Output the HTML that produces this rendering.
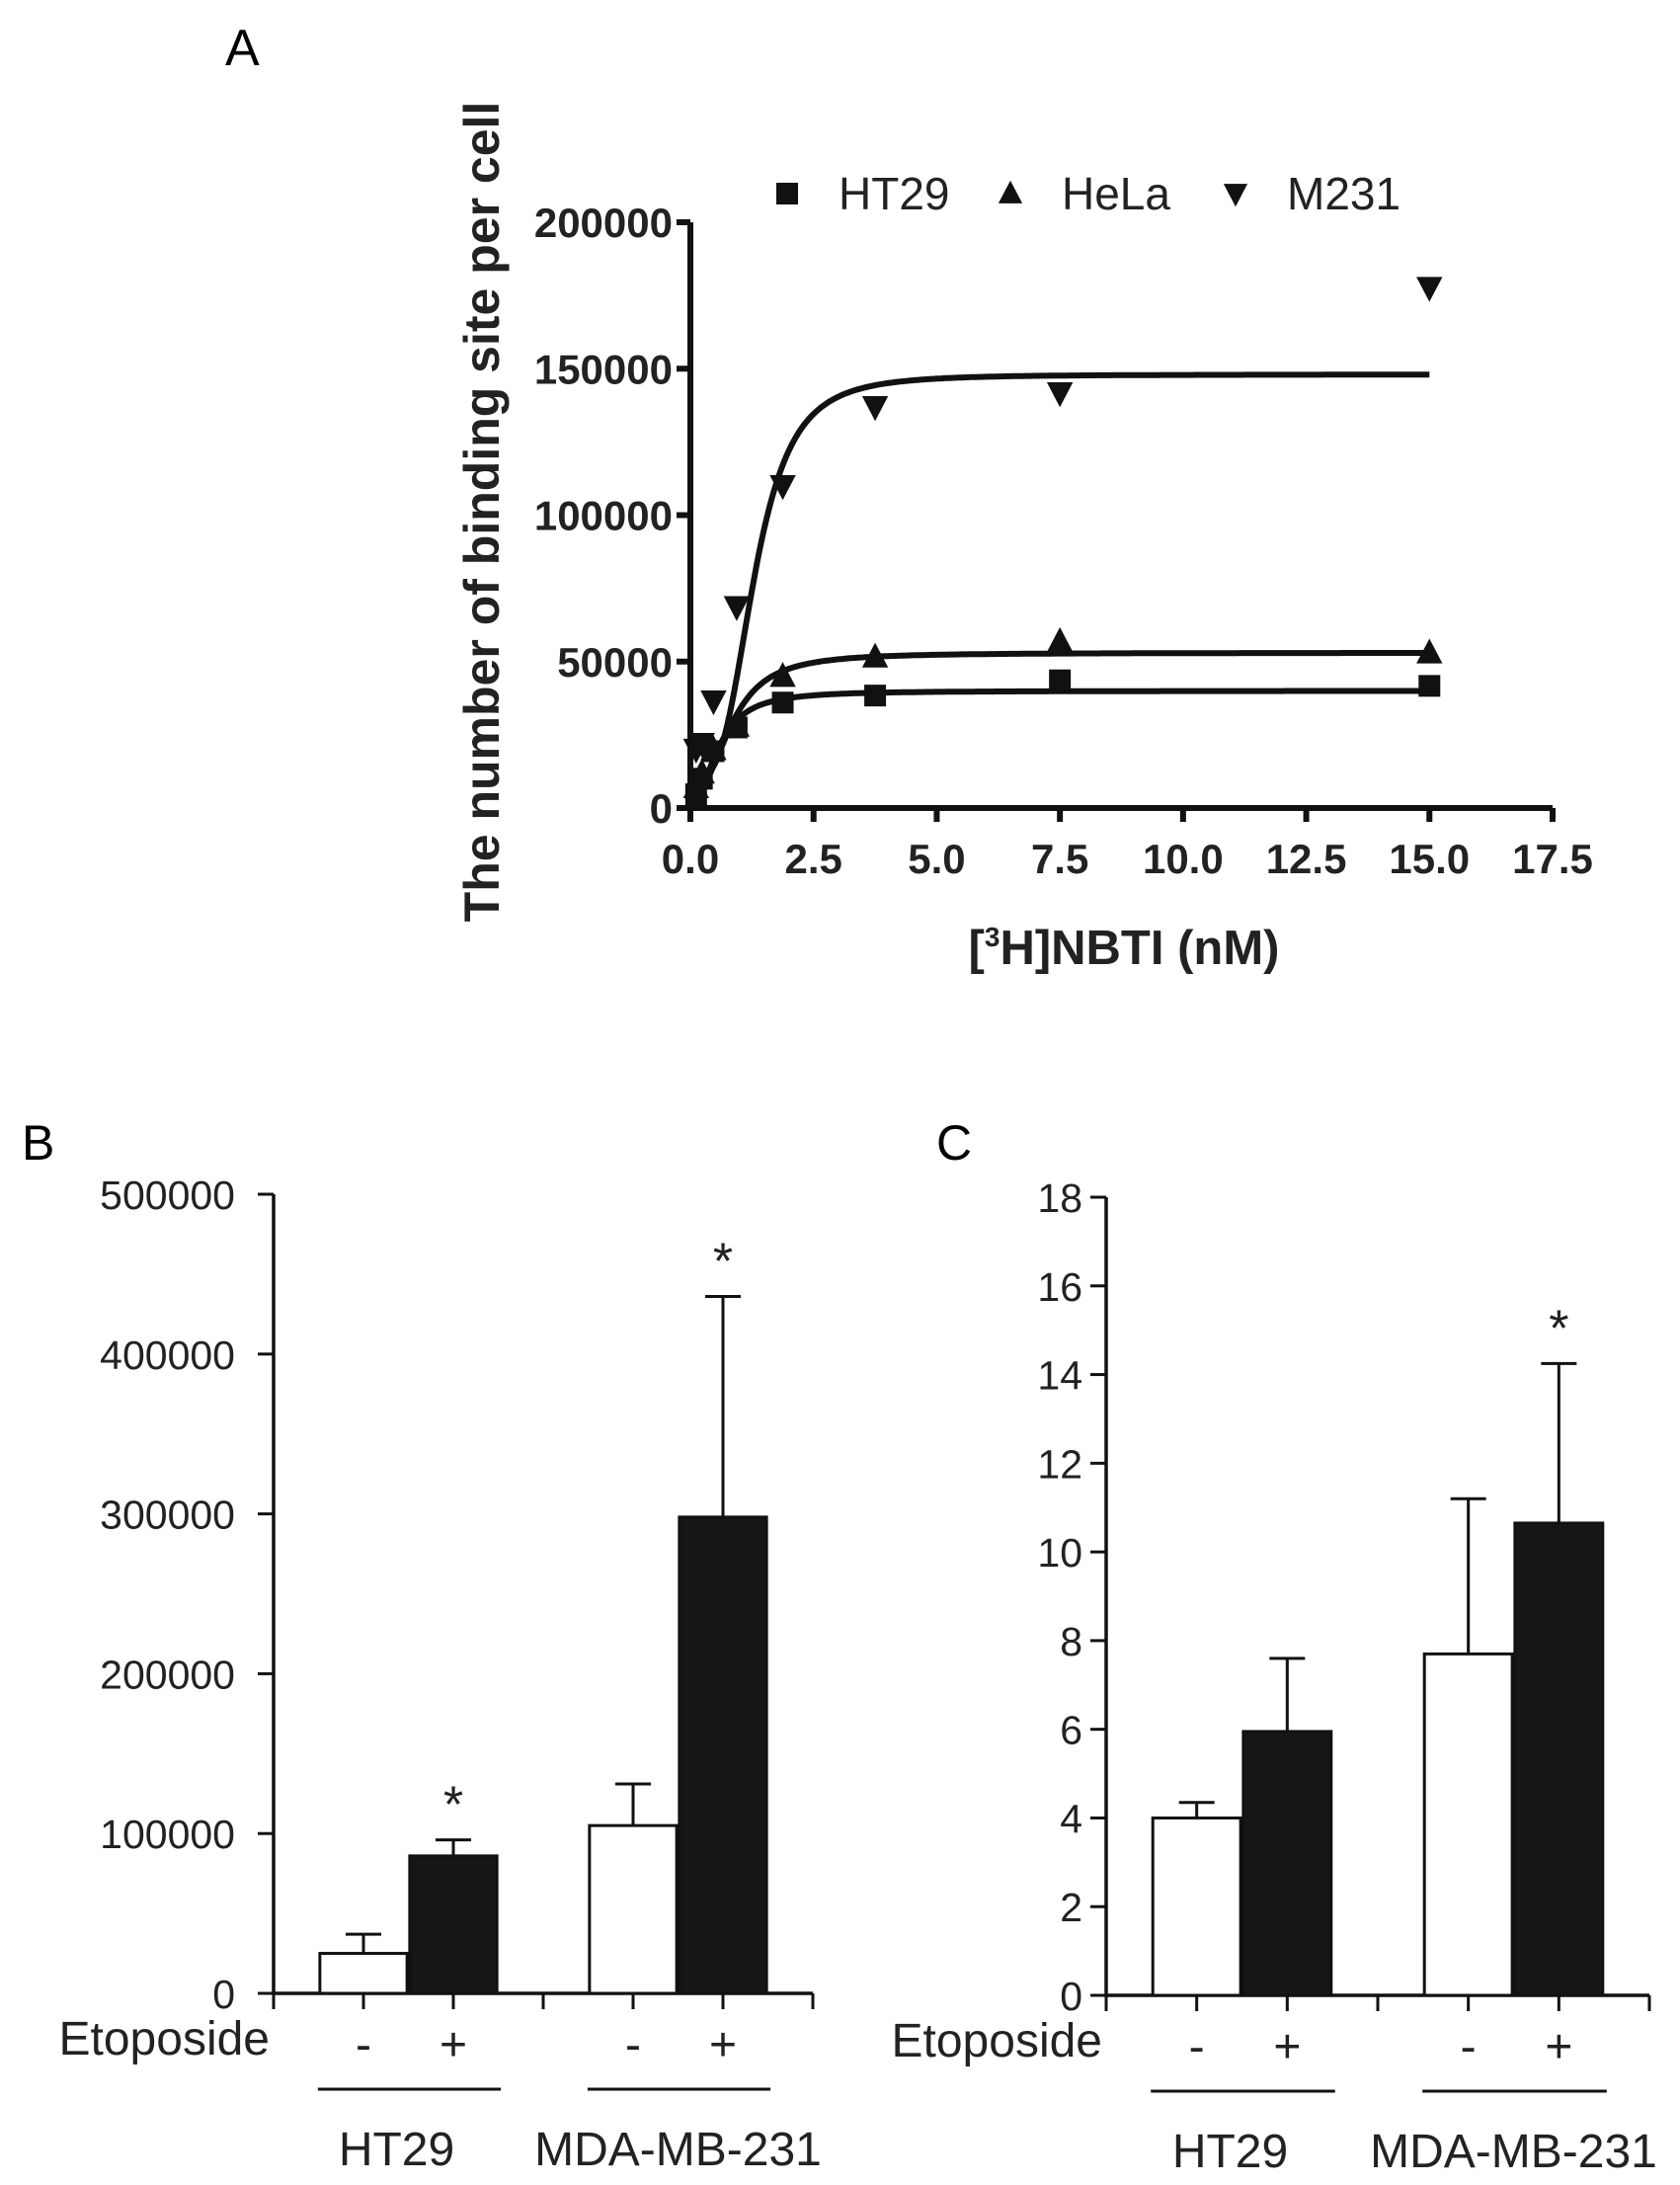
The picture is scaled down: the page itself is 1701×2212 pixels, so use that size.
<!DOCTYPE html>
<html><head><meta charset="utf-8">
<style>
html,body{margin:0;padding:0;background:#fff;}
svg{display:block;font-family:"Liberation Sans",Arial,sans-serif;}
</style></head>
<body>
<svg id="fig" width="1701" height="2212" viewBox="0 0 1701 2212" xmlns="http://www.w3.org/2000/svg">
<g id="panelA"></g>
<g id="panelB"></g>
<g id="panelC"></g>
</svg>
<script>
// ---------- Panel A data ----------
const concA = [0.117, 0.234, 0.47, 0.94, 1.875, 3.75, 7.5, 15];
const ht29A = [4700, 10000, 19400, 27500, 36000, 38400, 43600, 41700];
const helaA = [7000, 12000, 20000, 28000, 45000, 51600, 56900, 53000];
const m231A = [20000, 22000, 36500, 68700, 110000, 137000, 141700, 177700];
const xTicksA = ["0.0","2.5","5.0","7.5","10.0","12.5","15.0","17.5"];
const yTicksA = [0, 50000, 100000, 150000, 200000];
// fit parameters [bottom, top, K, hill]
const fitHT29 = [3000, 40000, 0.6, 2.2];
const fitHeLa = [5000, 53000, 0.85, 2.4];
const fitM231 = [10000, 148000, 1.3, 3.4];

// ---------- Panel B data ----------
const groupsB = ["HT29","MDA-MB-231"];
const meanB = [25000, 86000, 105000, 298000];
const errB = [37000, 96000, 131000, 436000];
const sigB = [false, true, false, true];
const yTicksB = [0,100000,200000,300000,400000,500000];

// ---------- Panel C data ----------
const meanC = [4.0, 5.95, 7.7, 10.65];
const errC = [4.35, 7.6, 11.2, 14.25];
const sigC = [false, false, false, true];
const yTicksC = [0,2,4,6,8,10,12,14,16,18];

const NS="http://www.w3.org/2000/svg";
function mk(parent,tag,attrs,text){
  const e=document.createElementNS(NS,tag);
  for(const k in attrs) e.setAttribute(k,attrs[k]);
  if(text!==undefined) e.textContent=text;
  parent.appendChild(e); return e;
}

// ===== Panel A =====
(function(){
  const g=document.getElementById('panelA');
  const x0=699,x1=1572,y0=818,y1=225;
  const sx=v=>x0+(v/17.5)*(x1-x0);
  const sy=v=>y0-(v/200000)*(y0-y1);
  let t=mk(g,'text',{x:228,y:66,'font-size':52},'A');
  
  
  let a=mk(g,'path',{d:`M${x0},${y1} V${y0} H${x1}`,stroke:'#111','stroke-width':6,fill:'none'});
  
  
  yTicksA.forEach(v=>{
    mk(g,'line',{x1:x0-14,x2:x0,y1:sy(v),y2:sy(v),stroke:'#111','stroke-width':6});
    const l=mk(g,'text',{x:x0-18,y:sy(v)+15,'font-size':42,'font-weight':'bold','text-anchor':'end',fill:'#222'},String(v));
    
    
  });
  xTicksA.forEach((lab,i)=>{
    const v=i*2.5;
    mk(g,'line',{x1:sx(v),x2:sx(v),y1:y0,y2:y0+14,stroke:'#111','stroke-width':6});
    const l=mk(g,'text',{x:sx(v),y:y0+66,'font-size':42,'font-weight':'bold','text-anchor':'middle',fill:'#222'},lab);
    
    
  });
  const yt=mk(g,'text',{x:0,y:0,'font-size':50,'font-weight':'bold','text-anchor':'middle',fill:'#222',transform:'translate(505,518) rotate(-90)'},'The number of binding site per cell');
  
  
  const xt=mk(g,'text',{x:1138,y:976,'font-size':49,'font-weight':'bold','text-anchor':'middle',fill:'#222'});
  
  
  xt.innerHTML='[<tspan font-size="28" dy="-18">3</tspan><tspan dy="18">H]NBTI (nM)</tspan>';
  const fits=[[fitHT29,'ht29'],[fitHeLa,'hela'],[fitM231,'m231']];
  fits.forEach(([p,n])=>{
    let d='';
    for(let i=0;i<=300;i++){
      const x=15*i/300;
      const y=p[0]+(p[1]-p[0])*Math.pow(x,p[3])/(Math.pow(p[2],p[3])+Math.pow(x,p[3]));
      d+=(i?'L':'M')+sx(x).toFixed(1)+','+sy(y).toFixed(1);
    }
    const c=mk(g,'path',{d:d,stroke:'#111','stroke-width':6,fill:'none'});
    
    
  });
  function marker(type,cx,cy,s){
    if(type==='sq') return mk(g,'rect',{x:cx-s,y:cy-s,width:2*s,height:2*s,fill:'#111'});
    if(type==='up') return mk(g,'polygon',{points:`${cx},${cy-s*1.2} ${cx-s*1.1},${cy+s*0.9} ${cx+s*1.1},${cy+s*0.9}`,fill:'#111'});
    return mk(g,'polygon',{points:`${cx},${cy+s*1.2} ${cx-s*1.1},${cy-s*0.9} ${cx+s*1.1},${cy-s*0.9}`,fill:'#111'});
  }
  concA.forEach((c,i)=>{
    let m=marker('sq',sx(c),sy(ht29A[i]),11);
    
    
    m=marker('up',sx(c),sy(helaA[i]),12);
    
    
    m=marker('dn',sx(c),sy(m231A[i]),12);
    
    
  });
  const leg=[['sq',797,'HT29'],['up',1023,'HeLa'],['dn',1251,'M231']];
  leg.forEach(([ty,x,lab])=>{
    const m=marker(ty,x,196,11);
    
    
    const l=mk(g,'text',{x:x+52,y:212,'font-size':46,fill:'#222'},lab);
    
    
  });
})();

// ===== Bar panels =====
function barPanel(gid,letter,lx,x0,x1,y0,y1,ymax,ticks,means,errs,sig,labRight){
  const g=document.getElementById(gid);
  const sy=v=>y0-(v/ymax)*(y0-y1);
  const step=(x1-x0)/6;
  const t=mk(g,'text',{x:lx,y:1174,'font-size':50},letter);
  
  
  const ax=mk(g,'path',{d:`M${x0},${y1} V${y0} H${x1}`,stroke:'#111','stroke-width':3.5,fill:'none'});
  
  
  ticks.forEach(v=>{
    mk(g,'line',{x1:x0-16,x2:x0,y1:sy(v),y2:sy(v),stroke:'#111','stroke-width':3});
    const l=mk(g,'text',{x:labRight,y:sy(v)+15,'font-size':41,'text-anchor':'end',fill:'#222'},String(v));
    
    
  });
  for(let i=0;i<=6;i++){
    mk(g,'line',{x1:x0+i*step,x2:x0+i*step,y1:y0,y2:y0+16,stroke:'#111','stroke-width':3});
  }
  const centers=[x0+step,x0+2*step,x0+4*step,x0+5*step];
  const bw=step*0.97;
  means.forEach((v,i)=>{
    const cx=centers[i];
    const e=mk(g,'line',{x1:cx,x2:cx,y1:sy(v),y2:sy(errs[i]),stroke:'#111','stroke-width':3});
    
    
    const cap=mk(g,'line',{x1:cx-18,x2:cx+18,y1:sy(errs[i]),y2:sy(errs[i]),stroke:'#111','stroke-width':3});
    
    
    const b=mk(g,'rect',{x:cx-bw/2,y:sy(v),width:bw,height:y0-sy(v),fill:i%2?'#161616':'#fff',stroke:'#111','stroke-width':3});
    
    
    if(sig[i]){
      const s=mk(g,'text',{x:cx,y:sy(errs[i])-18,'font-size':52,'text-anchor':'middle',fill:'#222'},'*');
      
      
    }
    const pm=mk(g,'text',{x:cx,y:y0+68,'font-size':48,'text-anchor':'middle',fill:'#222'},i%2?'+':'-');
    
    
  });
  const et=mk(g,'text',{x:x0-4,y:y0+62,'font-size':48,'text-anchor':'end',fill:'#222'},'Etoposide');
  
  
  groupsB.forEach((n,j)=>{
    const a=centers[2*j]-bw/2-2, b=centers[2*j+1]+bw/2+4;
    const ln=mk(g,'line',{x1:a,x2:b,y1:y0+97,y2:y0+97,stroke:'#111','stroke-width':3});
    
    
    const l=mk(g,'text',{x:(centers[2*j]+centers[2*j+1])/2+(j?0:-12),y:y0+174,'font-size':48,'text-anchor':'middle',fill:'#222'},n);
    
    
  });
}
barPanel('panelB','B',22,277,823,2018,1209,500000,yTicksB,meanB,errB,sigB,238);
barPanel('panelC','C',948,1120,1670,2020,1212,18,yTicksC,meanC,errC,sigC,1096);
</script>
</body></html>
